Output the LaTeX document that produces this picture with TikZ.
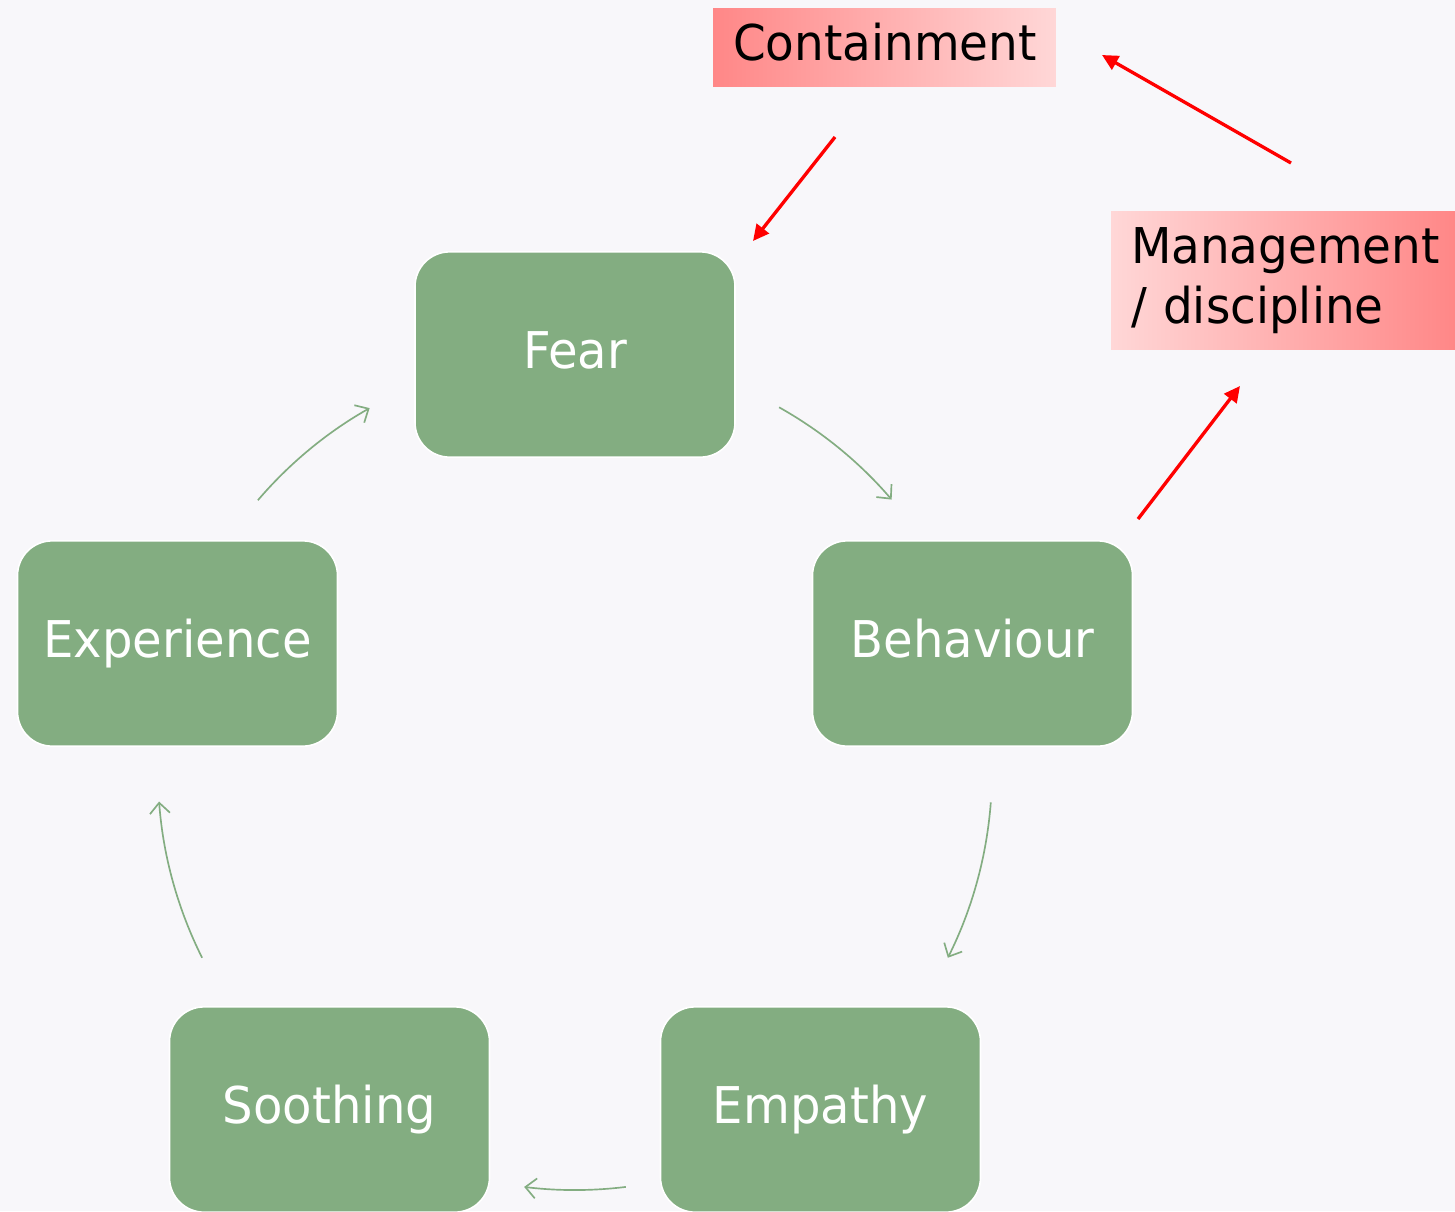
\documentclass[tikz,border=0pt]{standalone}
\usepackage{fontspec}
\setmainfont[FakeStretch=0.95]{DejaVu Sans}
\usetikzlibrary{arrows.meta,shadings}

\definecolor{bgpaper}{HTML}{F8F7FA}
\definecolor{stepgreen}{HTML}{83AD81}
\definecolor{pinkdeep}{HTML}{FF8787}
\definecolor{pinklight}{HTML}{FFD7D7}

\tikzset{
  stepbox/.style={draw=white, line width=1.2pt, fill=stepgreen, rounded corners=26pt,
    minimum width=240pt, minimum height=154pt, inner sep=0pt,
    text=white, font=\fontsize{38}{45}\selectfont,
    text height=29.6pt, text depth=9.2pt},
  notebox/.style={inner sep=0pt, text=black, font=\fontsize{37}{45}\selectfont},
  cyclearrow/.style={draw=stepgreen, line width=1.25pt,
    -{Straight Barb[length=8pt,width=15pt,line width=1.25pt]}},
  redarrow/.style={draw=red, line width=2.5pt,
    -{Triangle[length=12pt,width=11.5pt]}}
}

\begin{document}
\begin{tikzpicture}[x=0.75pt,y=-0.75pt]
  % page area
  \useasboundingbox (0,0) rectangle (1455,1211);
  \clip (0,0) rectangle (1455,1211);
  \fill[bgpaper] (0,0) rectangle (1455,1211);

  % cycle steps
  \node[stepbox] (fear)       at (575,354.5)   {Fear};
  \node[stepbox] (behaviour)  at (972.5,643.5) {Behaviour};
  \node[stepbox] (empathy)    at (820.5,1109.5) {Empathy};
  \node[stepbox] (soothing)   at (329.5,1109.5) {Soothing};
  \node[stepbox] (experience) at (177.5,643.5) {Experience};

  % arcs of the cycle (centre 575,771; radius 417)
  \coordinate (a1) at (779.1,407.3);
  \coordinate (a2) at (990.8,802.3);
  \coordinate (a3) at (625.8,1186.9);
  \coordinate (a4) at (202.1,957.7);
  \coordinate (a5) at (257.9,500.2);
  \draw[cyclearrow] (a1) arc[start angle=-60.7, end angle=-40.6, radius=417];
  \draw[cyclearrow] (a2) arc[start angle=4.3, end angle=26.6, radius=417];
  \draw[cyclearrow] (a3) arc[start angle=83, end angle=97, radius=417];
  \draw[cyclearrow] (a4) arc[start angle=153.4, end angle=175.8, radius=417];
  \draw[cyclearrow] (a5) arc[start angle=220.5, end angle=240.5, radius=417];

  % responses
  \node[notebox, left color=pinkdeep, right color=pinklight,
        minimum width=257pt, minimum height=58.5pt,
        text width=227pt, align=left, text height=28.9pt, text depth=8.7pt]
        (containment) at (884.5,47) {Containment};
  \node[notebox, left color=pinklight, right color=pinkdeep,
        minimum width=258pt, minimum height=103pt,
        text width=228pt, align=left]
        (management) at (1283,280.5) {Management\\/ discipline};

  % red links
  \coordinate (r1s) at (835,137);
  \coordinate (r1e) at (753,241);
  \coordinate (r2s) at (1291,163);
  \coordinate (r2e) at (1102,55);
  \coordinate (r3s) at (1138,519);
  \coordinate (r3e) at (1240,386);
  \draw[redarrow] (r1s) -- (r1e);
  \draw[redarrow] (r2s) -- (r2e);
  \draw[redarrow] (r3s) -- (r3e);
\end{tikzpicture}
\end{document}
